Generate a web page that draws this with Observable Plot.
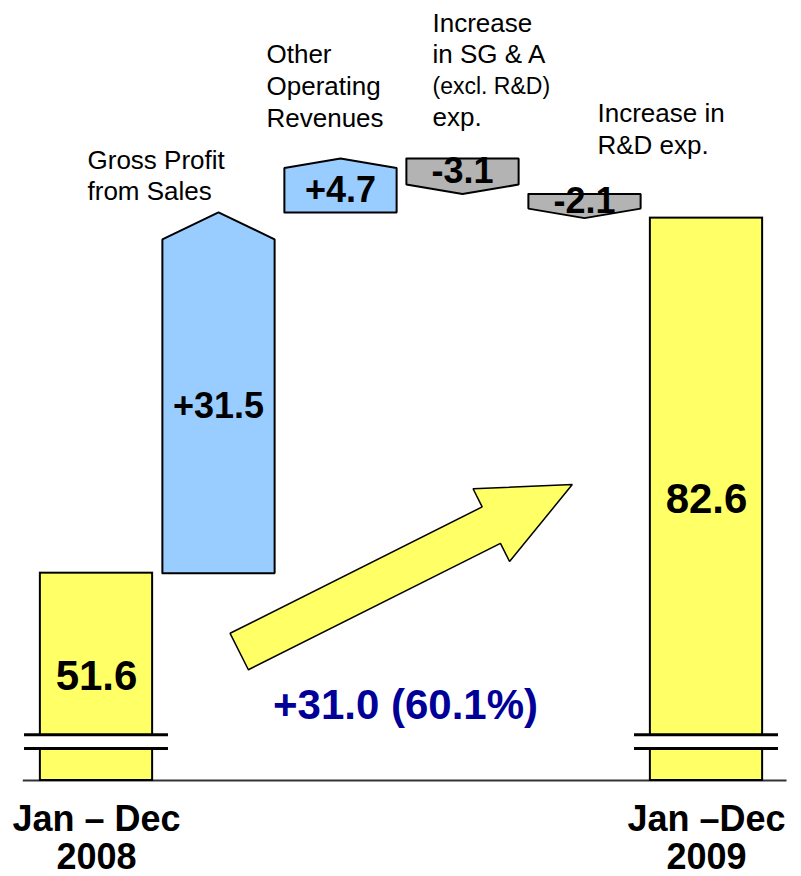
<!DOCTYPE html>
<html><head><meta charset="utf-8">
<script src="https://cdn.jsdelivr.net/npm/d3@7"></script>
<script src="https://cdn.jsdelivr.net/npm/@observablehq/plot@0.6"></script>
<style>body{margin:0;background:#fff} #chart{width:801px;height:876px}</style>
</head><body><div id="chart"></div>
<script>
// ---- data ----
const periodLabels = ["Jan – Dec\n2008", "Jan –Dec\n2009"];
const periodValues = [51.6, 82.6];
const stepLabels = ["Gross Profit\nfrom Sales", "Other\nOperating\nRevenues", "Increase\nin SG & A\n(excl. R&D)\nexp.", "Increase in\nR&D exp."];
const stepValues = [31.5, 4.7, -3.1, -2.1];

// ---- layout ----
const W = 801, H = 876, MB = 96, plotH = H - MB;
const yMin = 33.5, yMax = 101.6;            // broken axis: bars start above zero
const x0px = 96, stepPx = 122;
const xDomain = [-x0px / stepPx, (W - x0px) / stepPx];
const ky = plotH / (yMax - yMin);
const halfW = 0.46;
const font = "Liberation Sans, Arial, Helvetica, sans-serif";

// ---- derived tables ----
const nSteps = stepValues.length;
const totals = periodValues.map((v, k) => ({name: periodLabels[k], i: k === 0 ? 0 : nSteps + 1, value: v}));
let run = periodValues[0];
const steps = stepValues.map((d, k) => {
  const s = run; run += d;
  return {name: stepLabels[k], i: k + 1, start: s, end: run, delta: d};
});
const tipOf = d => (Math.abs(d.delta) > 10 ? 27 : 9.5) / ky;
const stepPoly = steps.flatMap(d => {
  const sg = Math.sign(d.delta), sh = d.end - sg * tipOf(d);
  return [[d.i - halfW, d.start], [d.i + halfW, d.start], [d.i + halfW, sh], [d.i, d.end], [d.i - halfW, sh], [d.i - halfW, d.start]]
    .map(([x, y]) => ({name: d.name, x, y, up: d.delta > 0}));
});

// step annotation lines (offsets in pixels from the step's top)
const stepLayout = [{dx: -131, dy: -52, lh: 31}, {dx: -74, dy: -104, lh: 32}, {dx: -30, dy: -135, lh: 31.3}, {dx: 13, dy: -80, lh: 32}];
const stepLines = steps.flatMap((d, k) => d.name.split("\n").map((t, j) => ({
  x: d.i + stepLayout[k].dx / stepPx,
  y: Math.max(d.start, d.end) - (stepLayout[k].dy + j * stepLayout[k].lh) / ky,
  text: t
})));

// break marks
const breakLo = yMin + 2.8, breakHi = yMin + 4.0;
const breakRules = totals.flatMap(d => [{i: d.i, y: breakLo}, {i: d.i, y: breakHi}]);

// growth arrow (fat arrow from the 2008 side toward 2009), geometry in pixels
const growth = periodValues[1] - periodValues[0];
const growthPct = (periodValues[1] / periodValues[0] - 1) * 100;
const arrowFrom = {x: 1.17, y: 44.76}, arrowTo = {x: 3.9, y: 59.34};
const toPx = p => [(p.x - xDomain[0]) * stepPx, plotH - (p.y - yMin) * ky];
const toData = ([a, b]) => ({x: xDomain[0] + a / stepPx, y: yMin + (plotH - b) / ky});
const arrowPoly = (() => {
  const [ax, ay] = toPx(arrowFrom), [bx, by] = toPx(arrowTo);
  const L = Math.hypot(bx - ax, by - ay), ux = (bx - ax) / L, uy = (by - ay) / L;
  const nx = -uy, ny = ux, w = 20.4, hw = 40.7, hl = 90.6;
  const Nx = bx - ux * hl, Ny = by - uy * hl;
  return [[ax + nx * w, ay + ny * w], [Nx + nx * w, Ny + ny * w], [Nx + nx * hw, Ny + ny * hw], [bx, by],
          [Nx - nx * hw, Ny - ny * hw], [Nx - nx * w, Ny - ny * w], [ax - nx * w, ay - ny * w], [ax + nx * w, ay + ny * w]]
    .map(toData);
})();

const chart = Plot.plot({
  width: W, height: H,
  marginTop: 0, marginBottom: MB, marginLeft: 0, marginRight: 0,
  x: {domain: xDomain, axis: null},
  y: {domain: [yMin, yMax], axis: null},
  style: {fontFamily: font, background: "white", color: "black", overflow: "visible"},
  marks: [
    Plot.ruleY([yMin], {x1: -0.6, x2: 5.66, stroke: "#333", strokeWidth: 2}),
    Plot.rect(totals, {x1: d => d.i - halfW, x2: d => d.i + halfW, y1: yMin, y2: "value", fill: "#ffff66", stroke: "#000", strokeWidth: 2}),
    Plot.line(stepPoly.filter(p => p.up), {x: "x", y: "y", z: "name", fill: "#99ccff", stroke: "#000", strokeWidth: 2, strokeLinejoin: "miter"}),
    Plot.line(stepPoly.filter(p => !p.up), {x: "x", y: "y", z: "name", fill: "#b3b3b3", stroke: "#000", strokeWidth: 2, strokeLinejoin: "miter"}),
    Plot.rect(totals, {x1: d => d.i - halfW - 0.03, x2: d => d.i + halfW + 0.03, y1: breakLo, y2: breakHi, fill: "white"}),
    Plot.ruleY(breakRules, {y: "y", x1: d => d.i - 0.59, x2: d => d.i + 0.59, stroke: "#000", strokeWidth: 3}),
    Plot.line(arrowPoly, {x: "x", y: "y", fill: "#ffff66", stroke: "#000", strokeWidth: 1.5, strokeLinejoin: "miter"}),
    Plot.text(totals, {x: "i", y: d => (d.value + yMin) / 2, text: d => d.value.toFixed(1), fontSize: 42, fontWeight: "bold", fill: "#000"}),
    Plot.text(steps, {x: "i", y: d => (d.start + d.end - Math.sign(d.delta) * tipOf(d)) / 2,
      text: d => (d.delta > 0 ? "+" : "") + d.delta.toFixed(1), fontSize: 36, fontWeight: "bold", fill: "#000"}),
    Plot.text(totals, {x: "i", y: yMin, text: "name", lineAnchor: "top", dy: 23, lineHeight: 1.056, fontSize: 36, fontWeight: "bold", fill: "#000"}),
    Plot.text(stepLines, {x: "x", y: "y", text: "text", textAnchor: "start", fontSize: d => d.text.startsWith("(") ? 23 : 26, fill: "#000"}),
    Plot.text([{x: (totals[0].i + totals[1].i) / 2, y: yMin + 75 / ky}], {x: "x", y: "y", dx: 4,
      text: () => `+${growth.toFixed(1)} (${growthPct.toFixed(1)}%)`, fontSize: 42, fontWeight: "bold", fill: "#000099"})
  ]
});
document.getElementById("chart").appendChild(chart);
</script>
</body></html>
